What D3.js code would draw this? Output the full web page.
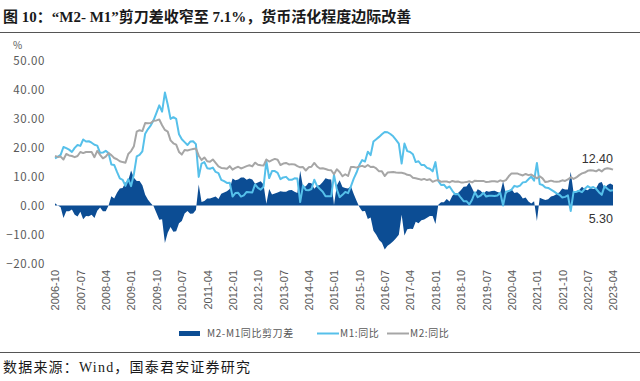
<!DOCTYPE html>
<html><head><meta charset="utf-8">
<script src="https://cdn.jsdelivr.net/npm/d3@7"></script>
<style>
html,body{margin:0;padding:0;background:#fff;}
svg{display:block;}
</style></head>
<body>
<svg id="chart" width="640" height="381"></svg>
<script>
// Monthly data, 2006-10 .. 2023-04
const startMonth = "2006-10";
const m2Yoy = [
 17.1,16.8,16.9,
 15.9,17.8,17.3,17.1,16.7,17.1,18.5,18.1,18.5,18.5,18.5,16.7,
 18.9,17.5,16.3,16.9,18.1,17.4,16.4,16.0,15.3,15.0,14.8,17.8,
 18.8,20.5,25.5,26.0,25.7,28.5,28.4,28.5,29.3,29.4,29.7,27.7,
 26.1,25.5,22.5,21.5,21.0,18.5,17.6,19.2,19.0,19.3,19.5,19.7,
 17.2,15.7,16.6,15.3,15.1,15.9,14.7,13.5,13.0,12.9,12.7,13.6,
 12.4,13.0,13.4,12.8,13.2,13.6,13.9,13.5,14.8,14.1,13.9,13.8,
 15.9,15.2,15.7,16.1,15.8,14.0,14.5,14.7,14.2,14.3,14.2,13.6,
 13.2,13.3,12.1,13.2,13.4,14.7,13.5,12.8,12.9,12.6,12.3,12.2,
 10.8,12.5,11.6,10.1,10.8,10.2,13.3,13.3,13.1,13.5,13.7,13.3,
 14.0,13.3,13.4,12.8,11.8,11.8,10.2,11.4,11.5,11.6,11.4,11.3,
 11.3,11.1,10.6,10.5,9.6,9.4,9.2,8.9,9.2,8.8,9.1,8.2,
 8.6,8.8,8.2,8.3,8.3,8.0,8.5,8.2,8.3,8.0,8.0,8.1,
 8.4,8.0,8.6,8.5,8.5,8.5,8.1,8.2,8.4,8.4,8.2,8.7,
 8.4,8.8,10.1,11.1,11.1,11.1,10.7,10.4,10.9,10.5,10.7,10.1,
 9.4,10.1,9.4,8.1,8.3,8.6,8.3,8.2,8.3,8.7,8.5,9.0,
 9.8,9.2,9.7,10.5,11.1,11.4,12.0,12.2,12.1,11.8,12.4,11.8,
 12.6,12.9,12.7,12.4
];
const m1Yoy = [
 16.3,16.8,17.5,
 20.2,19.8,19.3,18.5,19.9,20.9,20.6,22.8,22.1,22.2,21.7,21.0,
 20.7,18.2,18.3,18.9,18.1,14.2,14.0,11.6,9.4,8.9,6.8,9.1,
 6.7,10.9,17.0,17.5,18.7,24.8,26.4,27.7,29.5,32.0,34.6,32.4,
 39.0,34.9,29.9,30.5,29.9,24.6,22.9,21.9,20.9,22.1,22.2,21.2,
 9.9,14.5,15.0,12.9,12.7,13.1,11.6,11.2,8.9,8.4,7.8,7.9,
 3.1,4.3,4.4,3.1,3.5,4.7,4.6,4.5,7.3,6.1,5.5,6.5,
 15.3,9.5,11.9,11.9,11.3,9.1,9.7,9.9,8.9,8.9,9.4,9.3,
 1.2,6.9,5.4,5.3,5.7,8.9,6.7,5.7,4.8,3.2,3.2,3.2,
 10.6,5.6,2.9,3.7,4.7,4.3,6.6,9.3,11.4,14.0,15.7,15.2,
 18.6,17.4,22.1,22.9,23.7,24.6,25.4,25.3,24.7,23.9,22.7,21.4,
 14.5,21.4,18.8,18.5,17.7,15.0,15.3,14.0,14.0,13.0,12.7,11.8,
 15.0,8.5,7.1,7.2,6.0,6.6,5.1,3.9,4.0,2.7,1.5,1.5,
 0.4,2.0,4.6,2.9,3.4,4.4,3.1,3.4,3.4,3.3,3.5,4.4,
 0.0,4.8,5.0,5.5,6.8,6.5,6.9,8.0,8.1,9.1,10.0,8.6,
 14.7,7.4,7.1,6.2,6.1,5.5,4.9,4.2,3.7,2.8,3.0,3.5,
 -1.9,4.7,4.7,5.1,4.6,5.8,6.7,6.1,6.4,5.8,4.6,3.7,
 6.7,5.8,5.1,5.3
];
const xTickLabels = ["2006-10","2007-07","2008-04","2009-01","2009-10","2010-07","2011-04","2012-01","2012-10","2013-07","2014-04","2015-01","2015-10","2016-07","2017-04","2018-01","2018-10","2019-07","2020-04","2021-01","2021-10","2022-07","2023-04"];
const yTicks = [-20,-10,0,10,20,30,40,50];
const seriesNames = ["M2-M1同比剪刀差","M1:同比","M2:同比"];
const lastLabels = ["12.40","5.30"];

const fmtM = d3.timeFormat("%Y-%m");
const parseM = d3.timeParse("%Y-%m");
const months = d3.timeMonth.range(parseM(startMonth), d3.timeMonth.offset(parseM(startMonth), m2Yoy.length)).map(fmtM);
const rows = months.map((m,i)=>({m, m1:m1Yoy[i], m2:m2Yoy[i], gap:+(m2Yoy[i]-m1Yoy[i]).toFixed(2)}));

const colGap = "#0c4d94", colM1 = "#56c0ea", colM2 = "#a6a6a6";

const svg = d3.select("#chart");
const x = d3.scalePoint().domain(months).range([55, 613]);
const y = d3.scaleLinear().domain([-20, 50]).range([263.5, 60.7]);

// Title
svg.append("text").attr("x", 3).attr("y", 22)
  .attr("font-family", "'Liberation Serif','Noto Sans CJK SC'")
  .attr("font-weight", "bold").attr("font-size", 15).attr("fill", "#1a1a1a")
  .text("图 10：“M2- M1”剪刀差收窄至 7.1%，货币活化程度边际改善");
svg.append("line").attr("x1",0).attr("x2",640).attr("y1",32.5).attr("y2",32.5).attr("stroke","#555").attr("stroke-width",1);

// % label
svg.append("text").attr("x", 13).attr("y", 49).attr("font-family","'Noto Sans CJK SC'").attr("font-size",10).attr("fill","#595959").text("%");

// Y axis
const yAxis = d3.axisLeft(y).tickValues(yTicks).tickFormat(d3.format(".2f")).tickSize(0).tickPadding(0);
const gy = svg.append("g").attr("transform","translate(45,0)").call(yAxis);
gy.select(".domain").remove();
gy.selectAll("text").attr("font-family","'Noto Sans CJK SC'").attr("font-size",11.5).attr("fill","#595959").attr("letter-spacing","0.6");

// X axis
const xAxis = d3.axisBottom(x).tickValues(xTickLabels).tickSize(0).tickPadding(0);
const gx = svg.append("g").attr("transform","translate(0,268)").call(xAxis);
gx.select(".domain").remove();
gx.selectAll("text").attr("font-family","'Liberation Sans','Noto Sans CJK SC'").attr("font-size",11).attr("fill","#595959")
  .attr("text-anchor","end").attr("transform","rotate(-90)").attr("x",-2).attr("y",0).attr("dy","0.35em");

// Area
const area = d3.area().x(d=>x(d.m)).y0(y(0)).y1(d=>y(d.gap));
svg.append("path").datum(rows).attr("d", area).attr("fill", colGap);

// Lines
const lineM1 = d3.line().x(d=>x(d.m)).y(d=>y(d.m1));
const lineM2 = d3.line().x(d=>x(d.m)).y(d=>y(d.m2));
svg.append("path").datum(rows).attr("d", lineM1).attr("fill","none").attr("stroke",colM1).attr("stroke-width",2).attr("stroke-linejoin","round");
svg.append("path").datum(rows).attr("d", lineM2).attr("fill","none").attr("stroke",colM2).attr("stroke-width",2).attr("stroke-linejoin","round");

// Last value labels
svg.append("text").attr("x",613).attr("y",163).attr("text-anchor","end").attr("font-family","'Liberation Sans'").attr("font-size",12.5).attr("fill","#333").text(lastLabels[0]);
svg.append("text").attr("x",613).attr("y",223).attr("text-anchor","end").attr("font-family","'Liberation Sans'").attr("font-size",12.5).attr("fill","#333").text(lastLabels[1]);

// Legend
const lg = svg.append("g").attr("font-family","'Noto Sans CJK SC'").attr("font-size",10).attr("fill","#595959").attr("letter-spacing","0.6");
lg.append("rect").attr("x",179).attr("y",331).attr("width",21).attr("height",5).attr("fill",colGap);
lg.append("text").attr("x",207).attr("y",337).text(seriesNames[0]);
lg.append("line").attr("x1",317).attr("x2",339).attr("y1",333.5).attr("y2",333.5).attr("stroke",colM1).attr("stroke-width",2);
lg.append("text").attr("x",340).attr("y",337).text(seriesNames[1]);
lg.append("line").attr("x1",387).attr("x2",409).attr("y1",333.5).attr("y2",333.5).attr("stroke",colM2).attr("stroke-width",2);
lg.append("text").attr("x",410).attr("y",337).text(seriesNames[2]);

// Bottom rule and source
svg.append("line").attr("x1",0).attr("x2",640).attr("y1",352.5).attr("y2",352.5).attr("stroke","#555").attr("stroke-width",1);
svg.append("text").attr("x",3).attr("y",372)
  .attr("font-family","'Liberation Serif','Noto Sans CJK SC'").attr("font-size",14).attr("letter-spacing","1.2").attr("fill","#1a1a1a")
  .text("数据来源：Wind，国泰君安证券研究");
</script>
</body></html>
